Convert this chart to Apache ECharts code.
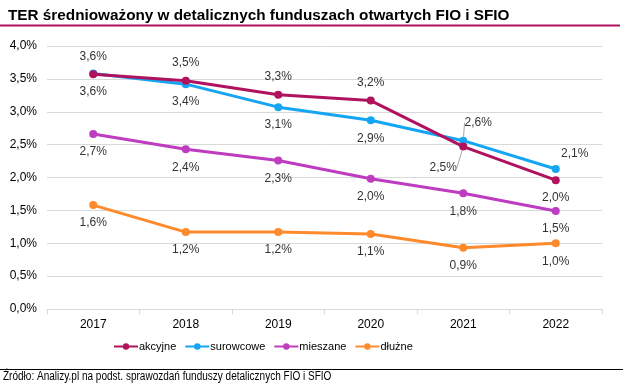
<!DOCTYPE html>
<html><head><meta charset="utf-8">
<script src="https://cdn.jsdelivr.net/npm/echarts@6/dist/echarts.min.js"></script>
<style>html,body{margin:0;padding:0;background:#fff}#c{width:623px;height:387px}</style>
</head><body><div id="c"></div>
<script>
const categories = ['2017','2018','2019','2020','2021','2022'];
const akcyjne   = [3.57, 3.47, 3.26, 3.17, 2.47, 1.96];
const surowcowe = [3.58, 3.42, 3.07, 2.87, 2.56, 2.13];
const mieszane  = [2.66, 2.43, 2.26, 1.98, 1.76, 1.49];
const dluzne    = [1.58, 1.17, 1.17, 1.14, 0.93, 1.00];
const yTicks = [0, 0.5, 1, 1.5, 2, 2.5, 3, 3.5, 4];
const seriesNames = ['akcyjne','surowcowe','mieszane','dłużne'];
const colors = ['#B0125E','#14A5F3','#BE3CC0','#FF8A2B'];

const fmt = v => v.toFixed(1).replace('.', ',') + '%';
const labelBase = {show:true, fontFamily:'Liberation Sans, Arial', fontSize:12, color:'#333', distance:8,
  formatter: p => fmt(p.value)};

function mkData(vals, specials){
  return vals.map((v,i)=> specials[i] ? Object.assign({value:v}, specials[i]) : v);
}

const ll = {show:true, lineStyle:{color:'#A6A6A6', width:1}};
const series = [
  {name:seriesNames[0], data: mkData(akcyjne, {
      4:{label:{position:'bottom'}, labelLine:ll},
      5:{label:{position:'bottom'}}
    }), label:Object.assign({}, labelBase, {position:'top'}),
    labelLayout: p => p.dataIndex===4 ? {dx:-20, dy:3} : {}},
  {name:seriesNames[1], data: mkData(surowcowe, {
      4:{label:{position:'top'}, labelLine:ll},
      5:{label:{position:'top'}}
    }), label:Object.assign({}, labelBase, {position:'bottom'}),
    labelLayout: p => p.dataIndex===4 ? {dx:15, dy:0} : (p.dataIndex===5 ? {dx:19, dy:3} : {})},
  {name:seriesNames[2], data: mieszane, label:Object.assign({}, labelBase, {position:'bottom'})},
  {name:seriesNames[3], data: dluzne, label:Object.assign({}, labelBase, {position:'bottom'})}
].map((s,i)=>Object.assign({
  type:'line', symbol:'circle', symbolSize:8, color:colors[i],
  lineStyle:{width:3, color:colors[i]}, itemStyle:{color:colors[i]}, z: 10-i
}, s));

const chart = echarts.init(document.getElementById('c'), null, {renderer:'canvas'});
chart.setOption({
  animation:false,
  backgroundColor:'#fff',
  title:[{text:'TER średnioważony w detalicznych funduszach otwartych FIO i SFIO', left:3, top:3,
    textStyle:{fontFamily:'Liberation Sans, Arial', fontWeight:'bold', fontSize:15.3, color:'#000'}}],
  graphic:[
    {type:'line', shape:{x1:0,y1:25.5,x2:620,y2:25.5}, style:{stroke:'#B0125E', lineWidth:2}},
    {type:'line', shape:{x1:0,y1:369.5,x2:623,y2:369.5}, style:{stroke:'#000', lineWidth:1}},
    {type:'text', x:3, y:371, scaleX:0.835, scaleY:1,
      style:{text:'Źródło: Analizy.pl na podst. sprawozdań funduszy detalicznych FIO i SFIO',
        font:'12px "Liberation Sans", Arial', fill:'#000'}}
  ],
  legend:{data:seriesNames, top:341, left:113, padding:0, itemWidth:24, itemHeight:8, itemGap:8,
    textStyle:{fontFamily:'Liberation Sans, Arial', fontSize:11, color:'#000', padding:[0,0,0,-4]}},
  grid:{left:47, right:21, top:46, bottom:78},
  xAxis:{type:'category', data:categories, boundaryGap:true,
    axisLine:{lineStyle:{color:'#D9D9D9'}}, axisTick:{show:true, length:5, lineStyle:{color:'#D9D9D9'}},
    axisLabel:{fontFamily:'Liberation Sans, Arial', fontSize:12, color:'#000', margin:10}},
  yAxis:{type:'value', min:yTicks[0], max:yTicks[yTicks.length-1], interval:0.5,
    axisLine:{show:false}, axisTick:{show:false},
    splitLine:{lineStyle:{color:'#D9D9D9'}},
    axisLabel:{fontFamily:'Liberation Sans, Arial', fontSize:12, color:'#000', margin:10,
      formatter: v => v.toFixed(1).replace('.', ',') + '%'}},
  series: series
});
</script></body></html>
